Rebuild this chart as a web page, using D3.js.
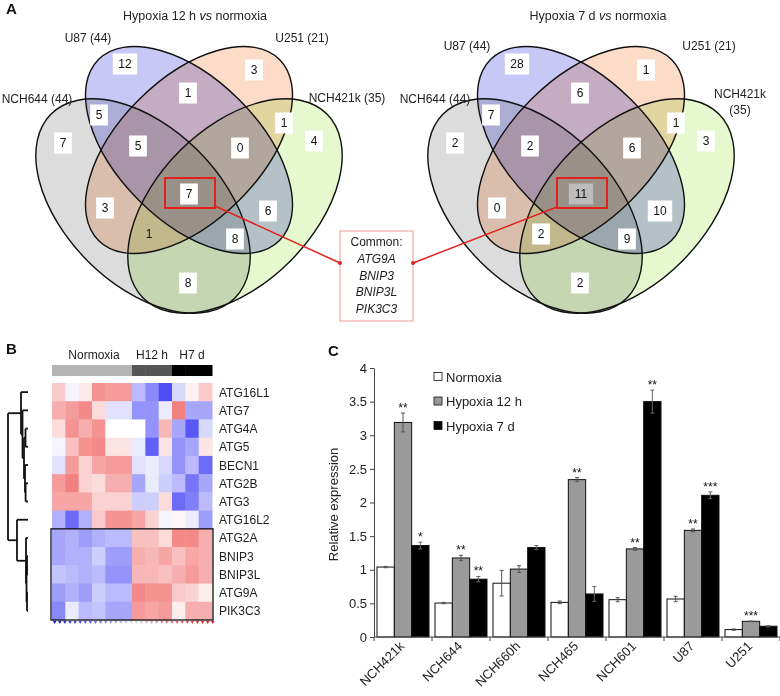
<!DOCTYPE html>
<html><head><meta charset="utf-8">
<script src="https://cdn.jsdelivr.net/npm/d3@7"></script>
<style>
body{margin:0;background:#fff;}
svg{display:block;font-family:"Liberation Sans",Arial,Helvetica,sans-serif;}
</style></head><body>
<svg id="c" width="780" height="696"></svg>
<script>
// ================= DATA =================
const vennSetNames = ["NCH644 (44)", "U87 (44)", "U251 (21)", "NCH421k (35)"];
const vennRegions = ["A","B","C","D","AB","BC","CD","AC","BD","AD","ABC","BCD","ACD","ABD","ABCD"];
const venn12h = [7, 12, 3, 4, 5, 1, 1, 3, 6, 8, 5, 0, 1, 8, 7];
const venn7d  = [2, 28, 1, 3, 7, 6, 1, 0, 10, 2, 2, 6, 2, 9, 11];
const vennTitles = ["Hypoxia 12 h ", "Hypoxia 7 d "];
const commonGenes = ["ATG9A", "BNIP3", "BNIP3L", "PIK3C3"];

const heatGenes = ["ATG16L1","ATG7","ATG4A","ATG5","BECN1","ATG2B","ATG3","ATG16L2","ATG2A","BNIP3","BNIP3L","ATG9A","PIK3C3"];
const heatGroups = ["Normoxia","Normoxia","Normoxia","Normoxia","Normoxia","Normoxia","H12 h","H12 h","H12 h","H7 d","H7 d","H7 d"];
const heatGroupNames = ["Normoxia","H12 h","H7 d"];
const heatRows = [
  [0.3,-0.05,0.12,0.6,0.55,0.55,-0.35,-0.6,-0.9,-0.2,0.08,0.3],
  [0.45,0.55,0.65,0.2,-0.15,-0.15,-0.55,-0.55,-0.1,0.7,-0.45,-0.45],
  [0.2,0.6,0.45,0.6,0.0,0.0,0.0,-0.55,0.4,-0.45,-0.85,-0.2],
  [-0.05,0.35,0.6,0.65,0.15,0.15,-0.1,-0.8,0.15,-0.55,-0.45,0.15],
  [-0.15,0.55,0.25,0.5,0.55,0.55,-0.15,-0.1,-0.2,-0.55,-0.35,-0.75],
  [0.55,0.7,0.25,0.2,0.45,0.45,-0.45,-0.1,-0.25,-0.35,-0.7,-0.45],
  [0.5,0.5,0.5,0.25,0.25,0.25,-0.25,-0.25,0.2,-0.75,-0.65,-0.35],
  [-0.4,-0.75,-0.4,0.3,0.6,0.6,0.5,0.25,-0.05,0.05,-0.1,-0.5],
  [-0.45,-0.4,-0.5,-0.4,-0.35,-0.35,0.35,0.35,0.2,0.65,0.65,0.45],
  [-0.45,-0.4,-0.4,-0.25,-0.5,-0.5,0.45,0.4,0.5,0.35,0.5,0.45],
  [-0.3,-0.35,-0.4,-0.35,-0.55,-0.55,0.4,0.4,0.35,0.45,0.55,0.45],
  [-0.5,-0.4,-0.5,-0.25,-0.35,-0.35,0.65,0.6,0.6,0.3,0.25,0.1],
  [-0.6,-0.1,-0.35,-0.3,-0.45,-0.45,0.55,0.5,0.55,0.1,0.45,0.45]
];
// dendrogram: [merge height, children] ; leaves are gene names
const dendro = [1.0, [
  [0.35, ["ATG16L1", [0.275, ["ATG7", [0.2, [[0.125, ["ATG4A","ATG5"]], [0.15, ["BECN1", [0.12, ["ATG2B","ATG3"]]]]]]]]]],
  [0.55, ["ATG16L2", [0.1, ["ATG2A", [0.075, [[0.05, ["BNIP3","BNIP3L"]], [0.05, ["ATG9A","PIK3C3"]]]]]]]]
]];

const barCategories = ["NCH421k","NCH644","NCH660h","NCH465","NCH601","U87","U251"];
const barSeries = ["Normoxia","Hypoxia 12 h","Hypoxia 7 d"];
const normoxia   = [1.04, 0.505, 0.80, 0.515, 0.555, 0.565, 0.11];
const hypoxia12h = [3.19, 1.175, 1.01, 2.34, 1.31, 1.586, 0.233];
const hypoxia7d  = [1.36, 0.86, 1.33, 0.64, 3.50, 2.107, 0.16];
const errNormoxia = [0.01, 0.01, 0.19, 0.02, 0.03, 0.04, 0.01];
const err12h      = [0.14, 0.04, 0.05, 0.03, 0.02, 0.02, 0.005];
const err7d       = [0.05, 0.04, 0.03, 0.11, 0.17, 0.05, 0.01];
const starsNormoxia = ["","","","","","",""];
const stars12h = ["**","**","","**","**","**","***"];
const stars7d  = ["*","**","","","**","***",""];
const yTicks = [0, 0.5, 1, 1.5, 2, 2.5, 3, 3.5, 4];

// ================= LAYOUT =================
const svg = d3.select("#c");
const FONT = 12;

// ---------- Panel A : Venn diagrams ----------
const ellipseSpecs = [
  {dx:-46, cy:206, rx:130, ry:78, rot:45,  fill:"#dcdcdc"},
  {dx:0,   cy:150, rx:128, ry:71, rot:45,  fill:"#c8c8f7"},
  {dx:0,   cy:150, rx:128, ry:71, rot:-45, fill:"#fcdbc9"},
  {dx:46,  cy:206, rx:130, ry:78, rot:-45, fill:"#e6f8ce"}
];
const regionAnchor = {
  A:[-126,143], B:[-64,64], C:[65,70], D:[125,141],
  AB:[-90,115], BC:[-1,93], CD:[95,123], AC:[-84,208], BD:[79,211], AD:[-1,283],
  ABC:[-51,146], BCD:[51,148], ACD:[-40,234], ABD:[46,239], ABCD:[0,194]
};
const vennLayouts = [
  {cx:189, counts:venn12h, title:vennTitles[0], titleX:195,
   labels:[{t:[vennSetNames[0]],x:37,y:98},{t:[vennSetNames[1]],x:88,y:37},{t:[vennSetNames[2]],x:302,y:37},{t:[vennSetNames[3]],x:347,y:97}],
   boxless:["ACD"], centerFill:"#ffffff"},
  {cx:581, counts:venn7d, title:vennTitles[1], titleX:598,
   labels:[{t:[vennSetNames[0]],x:435,y:98},{t:[vennSetNames[1]],x:467,y:45},{t:[vennSetNames[2]],x:709,y:45},{t:["NCH421k","(35)"],x:740,y:93}],
   boxless:[], centerFill:"#bcbcbc"}
];

function drawVenn(L) {
  const g = svg.append("g");
  const fills = g.append("g").style("isolation","isolate");
  fills.selectAll("ellipse").data(ellipseSpecs).join("ellipse")
    .attr("cx", d => L.cx + d.dx).attr("cy", d => d.cy)
    .attr("rx", d => d.rx).attr("ry", d => d.ry)
    .attr("transform", d => `rotate(${d.rot} ${L.cx + d.dx} ${d.cy})`)
    .attr("fill", d => d.fill).style("mix-blend-mode","multiply");
  g.append("g").selectAll("ellipse").data(ellipseSpecs).join("ellipse")
    .attr("cx", d => L.cx + d.dx).attr("cy", d => d.cy)
    .attr("rx", d => d.rx).attr("ry", d => d.ry)
    .attr("transform", d => `rotate(${d.rot} ${L.cx + d.dx} ${d.cy})`)
    .attr("fill", "none").attr("stroke", "#111").attr("stroke-width", 1.4);
  // title
  const tt = g.append("text").attr("x", L.titleX).attr("y", 20).attr("text-anchor","middle")
    .attr("font-size", 12.5).attr("fill","#222");
  tt.append("tspan").text(L.title);
  tt.append("tspan").attr("font-style","italic").text("vs");
  tt.append("tspan").text(" normoxia");
  // set labels
  L.labels.forEach(l => {
    l.t.forEach((line, i) => {
      g.append("text").attr("x", l.x).attr("y", l.y + 4.5 + i * 16).attr("text-anchor","middle")
        .attr("font-size", 12).attr("fill","#222").text(line);
    });
  });
  // counts
  vennRegions.forEach((r, i) => {
    const [dx, y] = regionAnchor[r];
    const x = L.cx + dx;
    const txt = String(L.counts[i]);
    const w = txt.length * 6.7 + 11;
    if (!L.boxless.includes(r)) {
      g.append("rect").attr("x", x - w/2).attr("y", y - 10.5).attr("width", w).attr("height", 21)
        .attr("fill", r === "ABCD" ? L.centerFill : "#fff");
    }
    g.append("text").attr("x", x).attr("y", y + 4.3).attr("text-anchor","middle")
      .attr("font-size", FONT).attr("fill","#111").text(txt);
  });
  // red highlight box
  g.append("rect").attr("x", L.cx - 24).attr("y", 178).attr("width", 50).attr("height", 30)
    .attr("fill","none").attr("stroke","#e3211c").attr("stroke-width", 2);
  return g;
}
vennLayouts.forEach(drawVenn);

// common genes box & connector lines
const cbox = {x:340, y:231, w:73, h:90};
svg.append("rect").attr("x", cbox.x).attr("y", cbox.y).attr("width", cbox.w).attr("height", cbox.h)
  .attr("fill","#fff").attr("stroke","#ec9a9a").attr("stroke-width", 1);
svg.append("text").attr("x", cbox.x + cbox.w/2).attr("y", 246).attr("text-anchor","middle")
  .attr("font-size", 12).attr("fill","#222").text("Common:");
commonGenes.forEach((gname, i) => {
  svg.append("text").attr("x", cbox.x + cbox.w/2).attr("y", 263 + i * 16.5).attr("text-anchor","middle")
    .attr("font-size", 12).attr("font-style","italic").attr("fill","#222").text(gname);
});
const connectors = [
  [vennLayouts[0].cx + 26, 206, cbox.x, 263],
  [vennLayouts[1].cx - 24, 207, cbox.x + cbox.w, 263]
];
connectors.forEach(c => {
  svg.append("line").attr("x1", c[0]).attr("y1", c[1]).attr("x2", c[2]).attr("y2", c[3])
    .attr("stroke","#e3211c").attr("stroke-width", 1.5);
  svg.append("circle").attr("cx", c[2]).attr("cy", c[3]).attr("r", 2).attr("fill","#e3211c");
});

// panel letters
[["A", 6, 14], ["B", 6, 354], ["C", 328, 356]].forEach(p => {
  svg.append("text").attr("x", p[1]).attr("y", p[2]).attr("font-size", 15).attr("font-weight","bold")
    .attr("fill","#111").text(p[0]);
});

// ---------- Panel B : heatmap ----------
const hx = d3.scaleBand().domain(d3.range(heatGroups.length)).range([52, 212]);
const hy = d3.scaleBand().domain(heatGenes).range([383, 620]);
const heatColor = d3.scaleLinear().domain([-1, 0, 1]).range(["#3a3af5", "#ffffff", "#ee4a4a"]);
const groupColor = d3.scaleOrdinal().domain(heatGroupNames).range(["#b4b4b4", "#555555", "#000000"]);
const hg = svg.append("g");
hg.selectAll("rect.grp").data(heatGroups).join("rect").attr("class","grp")
  .attr("x", (d, i) => hx(i)).attr("y", 365).attr("width", hx.bandwidth() + 0.5).attr("height", 11)
  .attr("fill", d => groupColor(d));
heatGroupNames.forEach(gn => {
  const idx = heatGroups.map((g, i) => g === gn ? i : -1).filter(i => i >= 0);
  const xm = (hx(idx[0]) + hx(idx[idx.length - 1]) + hx.bandwidth()) / 2;
  hg.append("text").attr("x", xm + (gn === "Normoxia" ? 2 : 0)).attr("y", 359).attr("text-anchor","middle")
    .attr("font-size", 12).attr("fill","#222").text(gn);
});
heatRows.forEach((row, r) => {
  hg.selectAll(null).data(row).join("rect")
    .attr("x", (d, i) => hx(i)).attr("y", hy(heatGenes[r]))
    .attr("width", hx.bandwidth() + 0.5).attr("height", hy.bandwidth() + 0.5)
    .attr("fill", d => heatColor(d));
});
hg.selectAll("text.gene").data(heatGenes).join("text").attr("class","gene")
  .attr("x", 219).attr("y", d => hy(d) + hy.bandwidth()/2 + 4.5)
  .attr("font-size", 12).attr("fill","#222").text(d => d);
// box around lower cluster
hg.append("rect").attr("x", 51).attr("y", hy("ATG2A")).attr("width", 162)
  .attr("height", 620 - hy("ATG2A")).attr("fill","none").attr("stroke","#111").attr("stroke-width", 1.3);
// colour key marks
const keyVals = d3.range(-1, 1.0001, 2/31);
hg.selectAll("path.key").data(keyVals).join("path").attr("class","key")
  .attr("d", (d, i) => { const x = 53 + i * 5.1; return `M${x},621 L${x+3.4},621 L${x+1.7},624 Z`; })
  .attr("fill", d => d3.scaleLinear().domain([-1,0,1]).range(["#1010d0","#d8d8e8","#e01010"])(d));

// dendrogram
const droot = d3.hierarchy(dendro, d => Array.isArray(d) && Array.isArray(d[1]) ? d[1] : null);
const dx = h => 28 - 20 * h;
droot.eachAfter(n => {
  if (!n.children) { n.py = hy(n.data) + hy.bandwidth()/2; n.px = 28; }
  else {
    n.px = dx(n.data[0]);
    n.py = (n.children[0].py + n.children[n.children.length - 1].py) / 2;
  }
});
const dg = svg.append("g").attr("fill","none").attr("stroke","#111").attr("stroke-width", 1.8);
droot.each(n => {
  if (n.children) {
    dg.append("path").attr("d", `M${n.px},${n.children[0].py} L${n.px},${n.children[n.children.length-1].py}`);
    n.children.forEach(c => dg.append("path").attr("d", `M${n.px},${c.py} L${c.px},${c.py}`));
  }
});

// ---------- Panel C : bar chart ----------
const seriesVals = [normoxia, hypoxia12h, hypoxia7d];
const seriesErr = [errNormoxia, err12h, err7d];
const seriesStars = [starsNormoxia, stars12h, stars7d];
const seriesFill = ["#ffffff", "#9a9a9a", "#000000"];
const x0 = d3.scaleBand().domain(barCategories).range([374, 780]);
const x1 = d3.scaleBand().domain(barSeries).range([3, x0.bandwidth() - 3]);
const y = d3.scaleLinear().domain([0, 4]).range([637, 368]);
const bc = svg.append("g");
barSeries.forEach((s, si) => {
  bc.selectAll(null).data(barCategories).join("rect")
    .attr("x", c => x0(c) + x1(s)).attr("y", (c, i) => y(seriesVals[si][i]))
    .attr("width", x1.bandwidth()).attr("height", (c, i) => y(0) - y(seriesVals[si][i]))
    .attr("fill", seriesFill[si]).attr("stroke", "#111").attr("stroke-width", 1);
  barCategories.forEach((c, i) => {
    const v = seriesVals[si][i], e = seriesErr[si][i];
    const xc = x0(c) + x1(s) + x1.bandwidth()/2;
    const col = si === 2 ? "#666" : "#555";
    bc.append("line").attr("x1", xc).attr("x2", xc).attr("y1", y(v - e)).attr("y2", y(v + e))
      .attr("stroke", col).attr("stroke-width", 1);
    [v - e, v + e].forEach(t => bc.append("line").attr("x1", xc - 2).attr("x2", xc + 2)
      .attr("y1", y(t)).attr("y2", y(t)).attr("stroke", col).attr("stroke-width", 1));
    if (seriesStars[si][i]) {
      bc.append("text").attr("x", xc).attr("y", y(v + e) - 1).attr("text-anchor","middle")
        .attr("font-size", 12).attr("fill","#111").text(seriesStars[si][i]);
    }
  });
});
// axes
const yAxis = d3.axisLeft(y).tickValues(yTicks).tickSize(4).tickSizeOuter(0).tickFormat(d => String(d));
const ya = bc.append("g").attr("transform", "translate(374,0)").call(yAxis);
ya.selectAll("text").attr("font-size", 13).attr("fill","#222").attr("font-family","Liberation Sans, Arial, sans-serif").attr("x", -7);
ya.select(".domain").attr("stroke","#444");
ya.selectAll(".tick line").attr("stroke","#444");
bc.append("line").attr("x1", 374).attr("x2", 780).attr("y1", y(0)).attr("y2", y(0)).attr("stroke","#444");
const boundaries = barCategories.map(c => x0(c)).concat([x0.range()[1]]);
bc.selectAll("line.xt").data(boundaries).join("line").attr("class","xt")
  .attr("x1", d => d).attr("x2", d => d).attr("y1", y(0)).attr("y2", y(0) + 4).attr("stroke","#444");
bc.selectAll("text.xl").data(barCategories).join("text").attr("class","xl")
  .attr("transform", c => `translate(${x0(c) + x0.bandwidth()/2 + 2},${y(0) + 10}) rotate(-45)`)
  .attr("text-anchor","end").attr("font-size", 13).attr("fill","#222").text(c => c);
bc.append("text").attr("transform", `translate(338,${(y(0) + y(4))/2 + 2}) rotate(-90)`)
  .attr("text-anchor","middle").attr("font-size", 13).attr("fill","#222").text("Relative expression");
// legend
barSeries.forEach((s, si) => {
  const ly = 377 + si * 24.5;
  bc.append("rect").attr("x", 434).attr("y", ly - 4.5).attr("width", 8).attr("height", 8)
    .attr("fill", seriesFill[si]).attr("stroke","#111").attr("stroke-width", 0.8);
  bc.append("text").attr("x", 446).attr("y", ly + 4.5).attr("font-size", 13).attr("fill","#222").text(s);
});
</script>
</body></html>
